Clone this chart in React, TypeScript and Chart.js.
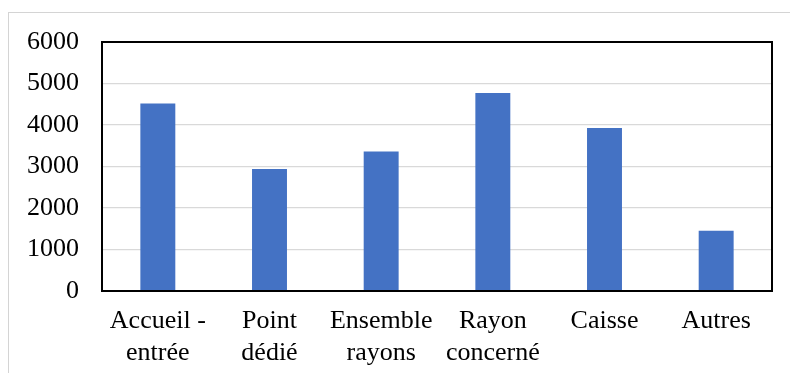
import React, { useEffect, useRef } from "react";
import { Chart, registerables } from "chart.js";

Chart.register(...registerables);

// Categories (multi-line labels) and their counts
const categories: (string | string[])[] = [
  ["Accueil -", "entrée"],
  ["Point", "dédié"],
  ["Ensemble", "rayons"],
  ["Rayon", "concerné"],
  "Caisse",
  "Autres",
];
const counts: number[] = [4520, 2940, 3360, 4770, 3930, 1450];

const yMin = 0;
const yMax = 6000;
const yStep = 1000;

const FONT = "'Liberation Serif', 'Times New Roman', serif";

// Black frame around the plotting area
const plotFrame = {
  id: "plotFrame",
  afterDraw(chart: Chart) {
    const { ctx, chartArea } = chart;
    ctx.save();
    ctx.strokeStyle = "#000000";
    ctx.lineWidth = 2;
    ctx.strokeRect(
      chartArea.left,
      chartArea.top,
      chartArea.right - chartArea.left,
      chartArea.bottom - chartArea.top
    );
    ctx.restore();
  },
};

export default function App() {
  const canvasRef = useRef<HTMLCanvasElement | null>(null);

  useEffect(() => {
    if (!canvasRef.current) return;
    const chart = new Chart(canvasRef.current, {
      type: "bar",
      data: {
        labels: categories,
        datasets: [
          {
            data: counts,
            backgroundColor: "#4472C4",
            borderWidth: 0,
            barPercentage: 0.313,
            categoryPercentage: 1,
          },
        ],
      },
      plugins: [plotFrame],
      options: {
        responsive: false,
        animation: false,
        layout: { padding: { top: 42, right: 18, bottom: 0, left: 0 } },
        plugins: {
          legend: { display: false },
          tooltip: { enabled: false },
        },
        scales: {
          x: {
            grid: { display: false, drawTicks: false },
            border: { display: false },
            ticks: {
              color: "#000000",
              padding: 15,
              maxRotation: 0,
              autoSkip: false,
              font: { family: FONT, size: 26, lineHeight: 1.2 },
            },
            afterFit(scale: any) {
              scale.height = 82;
            },
          },
          y: {
            min: yMin,
            max: yMax,
            grid: {
              color: "#d9d9d9",
              lineWidth: 1.3,
              drawTicks: false,
            },
            border: { display: false },
            ticks: {
              stepSize: yStep,
              color: "#000000",
              padding: 23,
              font: { family: FONT, size: 26 },
              callback: (value: any) => String(value),
            },
            afterFit(scale: any) {
              scale.width = 102;
            },
          },
        },
      },
    });
    return () => chart.destroy();
  }, []);

  return (
    <div
      style={{
        position: "fixed",
        left: 0,
        top: 0,
        width: 790,
        height: 373,
        overflow: "hidden",
        background: "#ffffff",
      }}
    >
      <div
        style={{
          position: "absolute",
          left: 8,
          top: 12,
          width: 900,
          height: 500,
          border: "1px solid #d4d4d4",
        }}
      />
      <canvas
        ref={canvasRef}
        width={790}
        height={373}
        style={{ position: "absolute", left: 0, top: 0 }}
      />
    </div>
  );
}
